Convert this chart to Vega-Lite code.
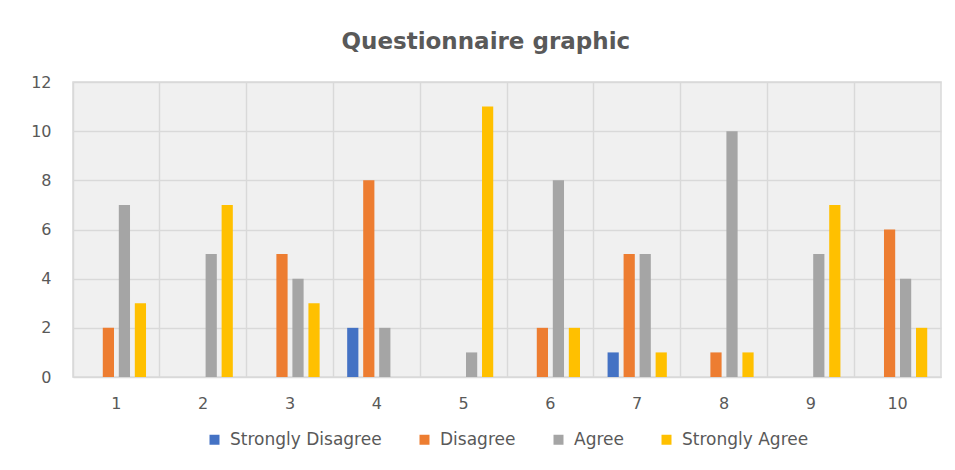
{
  "$schema": "https://vega.github.io/schema/vega-lite/v6.json",
  "autosize": {"type": "none"},
  "padding": {"left": 73, "top": 82, "right": 14, "bottom": 93},
  "width": 868,
  "height": 295,
  "background": "#ffffff",
  "title": {
    "text": "Questionnaire graphic",
    "frame": "bounds",
    "anchor": "middle",
    "fontSize": 23,
    "fontWeight": "bold",
    "color": "#595959",
    "offset": 20
  },
  "data": {
    "values": [
      {"question": 1, "response": "Strongly Disagree", "count": 0},
      {"question": 1, "response": "Disagree", "count": 2},
      {"question": 1, "response": "Agree", "count": 7},
      {"question": 1, "response": "Strongly Agree", "count": 3},
      {"question": 2, "response": "Strongly Disagree", "count": 0},
      {"question": 2, "response": "Disagree", "count": 0},
      {"question": 2, "response": "Agree", "count": 5},
      {"question": 2, "response": "Strongly Agree", "count": 7},
      {"question": 3, "response": "Strongly Disagree", "count": 0},
      {"question": 3, "response": "Disagree", "count": 5},
      {"question": 3, "response": "Agree", "count": 4},
      {"question": 3, "response": "Strongly Agree", "count": 3},
      {"question": 4, "response": "Strongly Disagree", "count": 2},
      {"question": 4, "response": "Disagree", "count": 8},
      {"question": 4, "response": "Agree", "count": 2},
      {"question": 4, "response": "Strongly Agree", "count": 0},
      {"question": 5, "response": "Strongly Disagree", "count": 0},
      {"question": 5, "response": "Disagree", "count": 0},
      {"question": 5, "response": "Agree", "count": 1},
      {"question": 5, "response": "Strongly Agree", "count": 11},
      {"question": 6, "response": "Strongly Disagree", "count": 0},
      {"question": 6, "response": "Disagree", "count": 2},
      {"question": 6, "response": "Agree", "count": 8},
      {"question": 6, "response": "Strongly Agree", "count": 2},
      {"question": 7, "response": "Strongly Disagree", "count": 1},
      {"question": 7, "response": "Disagree", "count": 5},
      {"question": 7, "response": "Agree", "count": 5},
      {"question": 7, "response": "Strongly Agree", "count": 1},
      {"question": 8, "response": "Strongly Disagree", "count": 0},
      {"question": 8, "response": "Disagree", "count": 1},
      {"question": 8, "response": "Agree", "count": 10},
      {"question": 8, "response": "Strongly Agree", "count": 1},
      {"question": 9, "response": "Strongly Disagree", "count": 0},
      {"question": 9, "response": "Disagree", "count": 0},
      {"question": 9, "response": "Agree", "count": 5},
      {"question": 9, "response": "Strongly Agree", "count": 7},
      {"question": 10, "response": "Strongly Disagree", "count": 0},
      {"question": 10, "response": "Disagree", "count": 6},
      {"question": 10, "response": "Agree", "count": 4},
      {"question": 10, "response": "Strongly Agree", "count": 2}
    ]
  },
  "mark": {"type": "bar"},
  "encoding": {
    "x": {
      "field": "question",
      "type": "ordinal",
      "scale": {"paddingInner": 0, "paddingOuter": 0},
      "axis": {
        "title": null,
        "labelAngle": 0,
        "labelFontSize": 16,
        "labelColor": "#595959",
        "labelPadding": 18,
        "ticks": false,
        "domainColor": "#d9d9d9",
        "grid": true,
        "bandPosition": 0,
        "gridColor": "#d9d9d9",
        "gridWidth": 1.5
      }
    },
    "xOffset": {
      "field": "response",
      "type": "nominal",
      "sort": ["Strongly Disagree", "Disagree", "Agree", "Strongly Agree"],
      "scale": {"paddingInner": 0.3, "paddingOuter": 0.86}
    },
    "y": {
      "field": "count",
      "type": "quantitative",
      "scale": {"domain": [0, 12], "nice": false},
      "axis": {
        "title": null,
        "values": [0, 2, 4, 6, 8, 10, 12],
        "labelFontSize": 16,
        "labelColor": "#595959",
        "labelPadding": 22,
        "ticks": false,
        "domain": false,
        "gridColor": "#d9d9d9",
        "gridWidth": 1.5
      }
    },
    "color": {
      "field": "response",
      "type": "nominal",
      "sort": ["Strongly Disagree", "Disagree", "Agree", "Strongly Agree"],
      "scale": {
        "domain": ["Strongly Disagree", "Disagree", "Agree", "Strongly Agree"],
        "range": ["#4472c4", "#ed7d31", "#a5a5a5", "#ffc000"]
      },
      "legend": {
        "title": null,
        "orient": "bottom",
        "direction": "horizontal",
        "symbolType": "square",
        "symbolSize": 100,
        "symbolStrokeWidth": 0,
        "labelFontSize": 17,
        "labelColor": "#595959",
        "labelOffset": 7,
        "columnPadding": 34,
        "offset": 20
      }
    }
  },
  "config": {
    "font": "DejaVu Sans",
    "legend": {"layout": {"bottom": {"anchor": "middle"}}},
    "view": {"fill": "#f0f0f0", "stroke": "#d9d9d9", "strokeWidth": 1.5}
  }
}
